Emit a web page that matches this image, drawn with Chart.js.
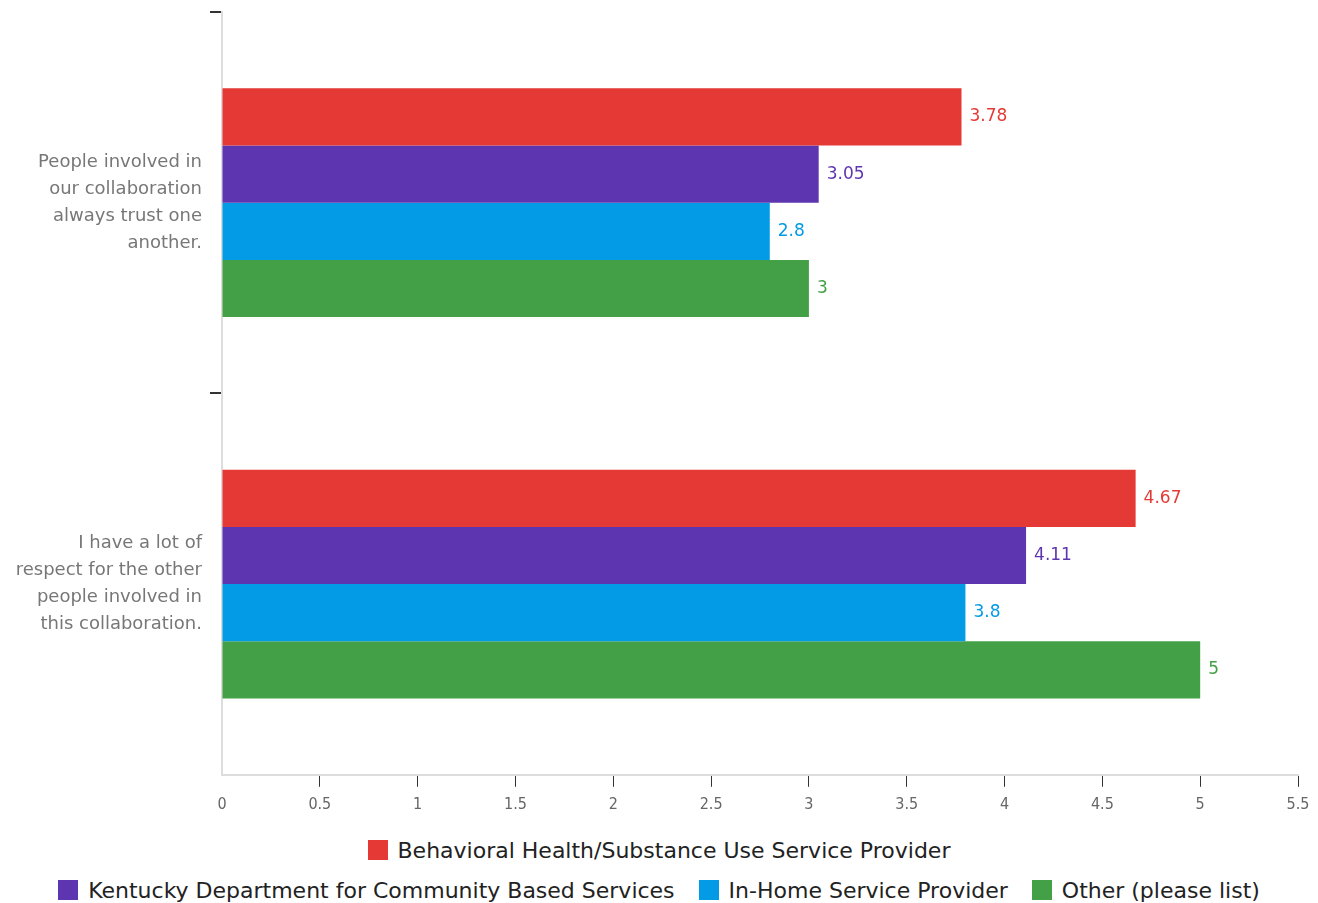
<!DOCTYPE html>
<html>
<head>
<meta charset="utf-8">
<script src="https://cdn.jsdelivr.net/npm/chart.js@4/dist/chart.umd.min.js"></script>
<style>
  html, body { margin: 0; padding: 0; background: #fff; }
  #wrap { position: relative; width: 1318px; height: 830px; }
  #legend { width: 1318px; font-family: "DejaVu Sans", sans-serif; font-size: 22px; color: #222; }
  .row { display: flex; justify-content: center; gap: 24px; height: 40px; align-items: center; }
  .item { display: flex; align-items: center; }
  .box { width: 20px; height: 20px; margin-right: 10px; }
</style>
</head>
<body>
<div id="wrap"><canvas id="chart"></canvas></div>
<div id="legend"></div>
<script>
const categories = [
  ['People involved in', 'our collaboration', 'always trust one', 'another.'],
  ['I have a lot of', 'respect for the other', 'people involved in', 'this collaboration.']
];
const seriesNames = [
  'Behavioral Health/Substance Use Service Provider',
  'Kentucky Department for Community Based Services',
  'In-Home Service Provider',
  'Other (please list)'
];
const behavioralHealth = [3.78, 4.67];
const kentuckyDcbs = [3.05, 4.11];
const inHome = [2.8, 3.8];
const other = [3, 5];
const xTicks = [0, 0.5, 1, 1.5, 2, 2.5, 3, 3.5, 4, 4.5, 5, 5.5];
const colors = ['#E53935', '#5E35B1', '#039BE5', '#43A047'];

const valueLabels = {
  id: 'valueLabels',
  afterDatasetsDraw(chart) {
    const ctx = chart.ctx;
    ctx.save();
    ctx.font = '17px "DejaVu Sans", sans-serif';
    ctx.textBaseline = 'middle';
    ctx.textAlign = 'left';
    chart.data.datasets.forEach((ds, i) => {
      ctx.fillStyle = ds.backgroundColor;
      chart.getDatasetMeta(i).data.forEach((bar, j) => {
        ctx.fillText(String(ds.data[j]), bar.x + 8, bar.y);
      });
    });
    ctx.restore();
  }
};

const allSeries = [behavioralHealth, kentuckyDcbs, inHome, other];

new Chart(document.getElementById('chart'), {
  type: 'bar',
  data: {
    labels: categories,
    datasets: allSeries.map((data, i) => ({
      label: seriesNames[i],
      data: data,
      backgroundColor: colors[i],
      categoryPercentage: 0.6,
      barPercentage: 1.0,
    })),
  },
  options: {
    indexAxis: 'y',
    responsive: true,
    maintainAspectRatio: false,
    animation: false,
    layout: { padding: { top: 12, right: 20, bottom: 8, left: 0 } },
    plugins: {
      legend: { display: false },
      tooltip: { enabled: false },
    },
    scales: {
      x: {
        min: 0,
        max: 5.5,
        afterBuildTicks: (scale) => { scale.ticks = xTicks.map((v) => ({ value: v })); },
        grid: {
          drawOnChartArea: false,
          tickLength: 12,
          color: (c) => (c.index === 0 ? 'rgba(0,0,0,0)' : '#333'),
        },
        border: { color: '#ddd', width: 2 },
        ticks: {
          color: '#666',
          font: { family: '"Liberation Sans Narrow", "DejaVu Sans Condensed", sans-serif', size: 16 },
          padding: 8,
          callback: (v) => String(v),
        },
      },
      y: {
        offset: true,
        grid: {
          offset: true,
          drawOnChartArea: false,
          tickLength: 12,
          color: (c) => (c.type === 'tick' ? '#333' : 'rgba(0,0,0,0)'),
          lineWidth: 2,
        },
        border: { color: '#ddd', width: 2 },
        ticks: {
          color: '#777',
          font: { family: '"DejaVu Sans", sans-serif', size: 18, lineHeight: 1.5 },
          padding: 8,
        },
        afterFit: (scale) => {
          scale.width = 222;
          scale.paddingTop = 0;
          scale.paddingBottom = 0;
        },
      },
    },
  },
  plugins: [valueLabels],
});

const legend = document.getElementById('legend');
const rows = [[0], [1, 2, 3]];
rows.forEach((r) => {
  const row = document.createElement('div');
  row.className = 'row';
  r.forEach((i) => {
    const item = document.createElement('div');
    item.className = 'item';
    const box = document.createElement('span');
    box.className = 'box';
    box.style.background = colors[i];
    const txt = document.createElement('span');
    txt.textContent = seriesNames[i];
    item.appendChild(box);
    item.appendChild(txt);
    row.appendChild(item);
  });
  legend.appendChild(row);
});
</script>
</body>
</html>
